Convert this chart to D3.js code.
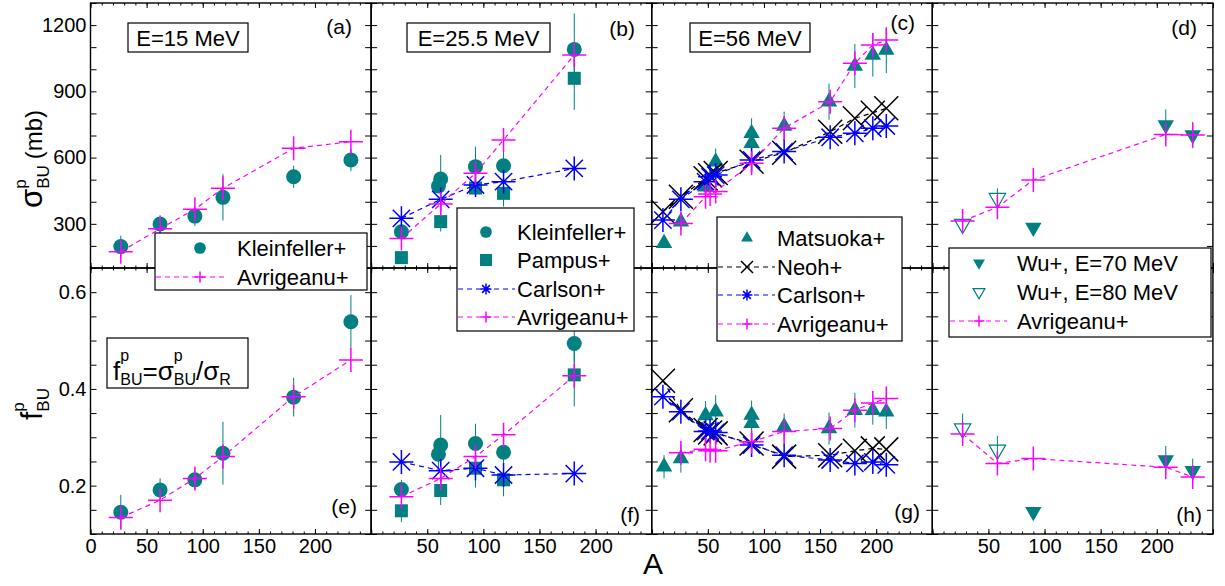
<!DOCTYPE html>
<head>
<meta charset="utf-8">
<script src="https://d3js.org/d3.v7.min.js"></script>
<style>
  body { margin: 0; background: #fff; }
  text { font-family: "Liberation Sans", Arial, sans-serif; }
</style>
</head>
<body>
<svg width="1225" height="586"></svg>
<script>
// ---- data ----
// (a)/(e)  E = 15 MeV
var A15 = [27, 62, 93, 118, 181, 232];
var sKlein15 = [197, 299, 335, 420, 513, 589];
var sKlein15Err = [50, 40, 45, 105, 50, 50];
var sAvr15 = [174, 278, 366, 461, 642, 672];
var fKlein15 = [0.145, 0.191, 0.212, 0.267, 0.383, 0.539];
var fKlein15Err = [0.036, 0.024, 0.021, 0.065, 0.04, 0.055];
var fAvr15 = [0.134, 0.170, 0.215, 0.260, 0.384, 0.460];

// (b)/(f)  E = 25.5 MeV
var AKlein25 = [27, 60, 62, 93, 118, 181];
var sKlein25 = [264, 471, 503, 559, 563, 1090];
var sKlein25Err = [20, 30, 109, 90, 63, 163];
var fKlein25 = [0.192, 0.265, 0.284, 0.287, 0.269, 0.494];
var fKlein25Err = [0.02, 0.03, 0.062, 0.041, 0.03, 0.04];
var A25 = [27, 62, 93, 118, 181];
var sPamp25 = [147, 310, 462, 438, 959];
var sPamp25Err = [15, 45, 40, 60, 143];
var fPamp25 = [0.148, 0.19, 0.236, 0.212, 0.429];
var fPamp25Err = [0.023, 0.03, 0.04, 0.034, 0.065];
var sCarl25 = [325, 411, 476, 491, 551];
var fCarl25 = [0.249, 0.231, 0.236, 0.222, 0.225];
var sAvr25 = [234, 390, 529, 680, 1065];
var fAvr25 = [0.177, 0.215, 0.260, 0.305, 0.427];

// (c)/(g)  E = 56 MeV
var AMats56 = [11, 26, 48, 57, 89, 89, 118, 158, 181, 197, 209];
var sMats56 = [212, 310, 468, 581, 710, 665, 743, 853, 1015, 1065, 1087];
var sMats56Err = [20, 40, 30, 60, 68, 40, 65, 82, 100, 98, 105];
var fMats56 = [0.239, 0.256, 0.345, 0.353, 0.346, 0.329, 0.322, 0.318, 0.356, 0.356, 0.353];
var fMats56Err = [0.024, 0.029, 0.03, 0.034, 0.03, 0.02, 0.027, 0.033, 0.036, 0.03, 0.036];
var A56 = [10, 26, 48, 52, 57, 89, 118, 159, 181, 197, 209];
var sNeoh56 = [355, 423, 506, 520, 530, 581, 622, 717, 778, 803, 823];
var fNeoh56 = [0.417, 0.356, 0.315, 0.31, 0.308, 0.287, 0.26, 0.263, 0.272, 0.277, 0.275];
var sCarl56 = [317, 411, 491, 513, 521, 589, 627, 692, 710, 733, 743];
var fCarl56 = [0.384, 0.353, 0.312, 0.313, 0.31, 0.284, 0.263, 0.253, 0.246, 0.249, 0.243];
var AAvr56 = [26, 48, 52, 57, 89, 118, 159, 181, 197, 209];
var sAvr56 = [302, 423, 435, 446, 574, 733, 853, 1027, 1110, 1132];
var fAvr56 = [0.268, 0.275, 0.272, 0.272, 0.291, 0.312, 0.318, 0.356, 0.371, 0.38];

// (d)/(h)  Wu E = 70 / 80 MeV
var AWu70 = [90, 208, 232];
var sWu70 = [283, 748, 702];
var sWu70Err = [15, 70, 60];
var fWu70 = [0.146, 0.253, 0.231];
var fWu70Err = [0.01, 0.029, 0.025];
var AWu80 = [27, 58];
var sWu80 = [299, 416];
var sWu80Err = [25, 45];
var fWu80 = [0.318, 0.274];
var fWu80Err = [0.031, 0.029];
var AAvr70 = [27, 58, 90, 208, 232];
var sAvr70 = [313, 375, 499, 705, 702];
var fAvr70 = [0.307, 0.246, 0.256, 0.238, 0.218];

var yTopTicks = [300, 600, 900, 1200];
var yBotTicks = [0.2, 0.4, 0.6];

// ---- layout ----
var svg = d3.select("svg");
var teal = "#008080", mag = "#ff00ff", blue = "#0000ff";
var font = "'Liberation Sans', Arial, sans-serif";

var cols = [90.5, 371.1, 651.7, 932.3], pw = 280.6;
var xs = cols.map(function(l) { return d3.scaleLinear().domain([0, 250]).range([l, l + pw]); });
var yTop = d3.scaleLinear().domain([100, 1300]).range([268, 3]);
var yBot = d3.scaleLinear().domain([0.1, 0.65]).range([534, 268]);

// marker shapes
function markerPath(type, h) {
    if (type == "plus") return "M" + (-h) + ",0H" + h + "M0," + (-h) + "V" + h;
    if (type == "times") return "M" + (-h) + "," + (-h) + "L" + h + "," + h + "M" + (-h) + "," + h + "L" + h + "," + (-h);
    if (type == "aster") {
        var d = h * 0.72;
        return "M" + (-h) + ",0H" + h + "M0," + (-h) + "V" + h +
            "M" + (-d) + "," + (-d) + "L" + d + "," + d + "M" + (-d) + "," + d + "L" + d + "," + (-d);
    }
    if (type == "triUp") return "M0," + (-h) + "L" + (0.866 * h) + "," + (0.5 * h) + "L" + (-0.866 * h) + "," + (0.5 * h) + "Z";
    if (type == "triDown" || type == "triDownOpen") return "M0," + h + "L" + (0.866 * h) + "," + (-0.5 * h) + "L" + (-0.866 * h) + "," + (-0.5 * h) + "Z";
    if (type == "square") return "M" + (-h) + "," + (-h) + "H" + h + "V" + h + "H" + (-h) + "Z";
}

var mSize = { circle: 7.5, square: 6.5, triUp: 9.5, triDown: 9.5, triDownOpen: 9.5, plus: 12, aster: 12, times: 12 };
var mColor = { circle: teal, square: teal, triUp: teal, triDown: teal, triDownOpen: teal, plus: mag, aster: blue, times: "#000" };

function marker(g, type, cx, cy, scale) {
    var h = mSize[type] * scale;
    if (type == "circle") {
        g.append("circle").attr("cx", cx).attr("cy", cy).attr("r", h).attr("fill", teal);
        return;
    }
    var p = g.append("path").attr("d", markerPath(type, h)).attr("transform", "translate(" + cx + "," + cy + ")");
    if (type == "plus" || type == "aster" || type == "times") {
        p.attr("fill", "none").attr("stroke", mColor[type]).attr("stroke-width", 1.5);
    } else if (type == "triDownOpen") {
        p.attr("fill", "none").attr("stroke", teal).attr("stroke-width", 1.2);
    } else {
        p.attr("fill", teal);
    }
}

// ---- panels ----
var panels = [
    { col: 0, y: yTop, series: [
        { x: A15, v: sKlein15, e: sKlein15Err, m: "circle" },
        { x: A15, v: sAvr15, m: "plus", line: mag } ] },
    { col: 1, y: yTop, series: [
        { x: AKlein25, v: sKlein25, e: sKlein25Err, m: "circle" },
        { x: A25, v: sPamp25, e: sPamp25Err, m: "square" },
        { x: A25, v: sCarl25, m: "aster", line: blue },
        { x: A25, v: sAvr25, m: "plus", line: mag } ] },
    { col: 2, y: yTop, series: [
        { x: AMats56, v: sMats56, e: sMats56Err, m: "triUp" },
        { x: A56, v: sNeoh56, m: "times", line: "#000" },
        { x: A56, v: sCarl56, m: "aster", line: blue },
        { x: AAvr56, v: sAvr56, m: "plus", line: mag } ] },
    { col: 3, y: yTop, series: [
        { x: AWu70, v: sWu70, e: sWu70Err, m: "triDown" },
        { x: AWu80, v: sWu80, e: sWu80Err, m: "triDownOpen" },
        { x: AAvr70, v: sAvr70, m: "plus", line: mag } ] },
    { col: 0, y: yBot, series: [
        { x: A15, v: fKlein15, e: fKlein15Err, m: "circle" },
        { x: A15, v: fAvr15, m: "plus", line: mag } ] },
    { col: 1, y: yBot, series: [
        { x: AKlein25, v: fKlein25, e: fKlein25Err, m: "circle" },
        { x: A25, v: fPamp25, e: fPamp25Err, m: "square" },
        { x: A25, v: fCarl25, m: "aster", line: blue },
        { x: A25, v: fAvr25, m: "plus", line: mag } ] },
    { col: 2, y: yBot, series: [
        { x: AMats56, v: fMats56, e: fMats56Err, m: "triUp" },
        { x: A56, v: fNeoh56, m: "times", line: "#000" },
        { x: A56, v: fCarl56, m: "aster", line: blue },
        { x: AAvr56, v: fAvr56, m: "plus", line: mag } ] },
    { col: 3, y: yBot, series: [
        { x: AWu70, v: fWu70, e: fWu70Err, m: "triDown" },
        { x: AWu80, v: fWu80, e: fWu80Err, m: "triDownOpen" },
        { x: AAvr70, v: fAvr70, m: "plus", line: mag } ] }
];

function noDomain(sel) { sel.select(".domain").remove(); }

panels.forEach(function(p, i) {
    var x = xs[p.col], y = p.y;
    var top = y.range()[1], bot = y.range()[0];
    var left = x.range()[0], right = x.range()[1];
    var g = svg.append("g").attr("color", "#000").attr("font-family", font);
    var isTop = (y === yTop);

    // frame
    g.append("rect").attr("x", left).attr("y", top).attr("width", right - left).attr("height", bot - top)
        .attr("fill", "none").attr("stroke", "#000").attr("stroke-width", 1.4);

    // x ticks (inside, top and bottom)
    [[top, d3.axisTop], [bot, d3.axisBottom]].forEach(function(t) {
        g.append("g").attr("transform", "translate(0," + t[0] + ")")
            .call(t[1](x).tickValues(d3.range(0, 251, 10)).tickSize(-2.5).tickFormat(""))
            .call(noDomain);
    });
    g.append("g").attr("transform", "translate(0," + top + ")")
        .call(d3.axisTop(x).tickValues(d3.range(0, 251, 50)).tickSize(-5).tickFormat(""))
        .call(noDomain);
    var xLabels = p.col == 0 ? [0, 50, 100, 150, 200] : [50, 100, 150, 200];
    g.append("g").attr("transform", "translate(0," + bot + ")")
        .call(d3.axisBottom(x).tickValues(d3.range(0, 251, 50)).tickSize(-5).tickPadding(5)
            .tickFormat(function(d) { return (!isTop && xLabels.indexOf(d) >= 0) ? d : ""; }))
        .call(noDomain)
        .attr("font-size", 20).attr("font-family", font);

    // y ticks (inside, left and right)
    var yt = isTop ? d3.range(100, 1301, 100) : d3.range(0.1, 0.651, 0.05);
    var yl = isTop ? yTopTicks : yBotTicks;
    g.append("g").attr("transform", "translate(" + left + ",0)")
        .call(d3.axisLeft(y).tickValues(yt).tickSize(-6).tickPadding(4)
            .tickFormat(function(d) {
                if (p.col != 0) return "";
                var hit = yl.filter(function(v) { return Math.abs(v - d) < 1e-6; });
                return hit.length ? (isTop ? d3.format("d")(d) : d3.format(".1f")(d)) : "";
            }))
        .call(noDomain)
        .attr("font-size", 20).attr("font-family", font);
    g.append("g").attr("transform", "translate(" + right + ",0)")
        .call(d3.axisRight(y).tickValues(yt).tickSize(-6).tickFormat(""))
        .call(noDomain);

    // data
    p.series.forEach(function(s) {
        var pts = s.x.map(function(a, k) { return [x(a), y(s.v[k])]; });
        if (s.line) {
            g.append("path").attr("d", d3.line()(pts)).attr("fill", "none")
                .attr("stroke", s.line).attr("stroke-width", 1.2).attr("stroke-dasharray", "5,4");
        }
        if (s.e) {
            s.x.forEach(function(a, k) {
                g.append("line").attr("x1", x(a)).attr("x2", x(a))
                    .attr("y1", y(s.v[k] - s.e[k])).attr("y2", y(s.v[k] + s.e[k]))
                    .attr("stroke", teal).attr("stroke-width", 1);
            });
        }
        pts.forEach(function(pt) { marker(g, s.m, pt[0], pt[1], 1); });
    });
});

// ---- rich text helper (sub/superscripts) ----
function rich(g, x, y, parts) {
    var cx = x, supX = x;
    parts.forEach(function(q) {
        var px = q.stack ? supX : cx + (q.gap || 0);
        var t = g.append("text").attr("x", px).attr("y", y + (q.dy || 0))
            .attr("font-size", q.fs).attr("font-family", font).attr("fill", "#000").text(q.t);
        if (q.sup) supX = px;
        cx = Math.max(cx, px + t.node().getComputedTextLength());
    });
    return cx - x;
}

// axis titles
var tTop = svg.append("g").attr("transform", "translate(42,208) rotate(-90)");
rich(tTop, 0, 0, [
    { t: "σ", fs: 31 },
    { t: "p", fs: 17, dy: -16, sup: true },
    { t: "BU", fs: 17, dy: 7, stack: true },
    { t: "(mb)", fs: 24, gap: 6 }
]);
var tBot = svg.append("g").attr("transform", "translate(42,420) rotate(-90)");
rich(tBot, 0, 0, [
    { t: "f", fs: 30 },
    { t: "p", fs: 17, dy: -18, sup: true },
    { t: "BU", fs: 17, dy: 7, stack: true }
]);
svg.append("text").attr("x", 653).attr("y", 574).attr("text-anchor", "middle")
    .attr("font-size", 30).attr("font-family", font).text("A");

// panel letters
var letters = [["(a)", 352, 34], ["(b)", 635, 36], ["(c)", 915, 30], ["(d)", 1197, 35],
               ["(e)", 357, 514], ["(f)", 640, 522], ["(g)", 920, 519], ["(h)", 1202, 522]];
letters.forEach(function(l) {
    svg.append("text").attr("x", l[1]).attr("y", l[2]).attr("text-anchor", "end")
        .attr("font-size", 21).attr("font-family", font).text(l[0]);
});

// energy boxes
function box(x0, y0, w, h) {
    return svg.append("rect").attr("x", x0).attr("y", y0).attr("width", w).attr("height", h)
        .attr("fill", "#fff").attr("stroke", "#000").attr("stroke-width", 1.2);
}
[["E=15 MeV", 128, 120], ["E=25.5 MeV", 407, 143], ["E=56 MeV", 690, 120]].forEach(function(b) {
    box(b[1], 23, b[2], 29);
    svg.append("text").attr("x", b[1] + b[2] / 2).attr("y", 45.5).attr("text-anchor", "middle")
        .attr("font-size", 22).attr("font-family", font).text(b[0]);
});

// formula box in (e)
box(107, 338, 141, 50);
rich(svg, 113, 380, [
    { t: "f", fs: 26 },
    { t: "p", fs: 16, dy: -19, sup: true },
    { t: "BU", fs: 16, dy: 5, stack: true },
    { t: "=σ", fs: 26 },
    { t: "p", fs: 16, dy: -19, sup: true },
    { t: "BU", fs: 16, dy: 5, stack: true },
    { t: "/σ", fs: 26 },
    { t: "R", fs: 16, dy: 5 }
]);

// legends
var legScale = { circle: 0.78, square: 0.92, triUp: 0.72, triDown: 0.72, triDownOpen: 0.72, plus: 0.45, aster: 0.45, times: 0.5 };
function legend(x0, y0, w, h, mx, tx, lineEnd, items) {
    box(x0, y0, w, h);
    items.forEach(function(it) {
        if (it.line) {
            svg.append("line").attr("x1", x0 + 1).attr("x2", lineEnd).attr("y1", it.y).attr("y2", it.y)
                .attr("stroke", it.line).attr("stroke-width", 1.2).attr("stroke-dasharray", "5,4");
        }
        marker(svg, it.m, mx, it.y, legScale[it.m]);
        svg.append("text").attr("x", tx).attr("y", it.y + 8).attr("font-size", 22)
            .attr("font-family", font).text(it.label);
    });
}
legend(155, 233, 212, 57, 200, 237, 227, [
    { label: "Kleinfeller+", m: "circle", y: 248 },
    { label: "Avrigeanu+", m: "plus", line: mag, y: 277 }
]);
legend(457, 208, 177, 123, 486, 517, 515, [
    { label: "Kleinfeller+", m: "circle", y: 232 },
    { label: "Pampus+", m: "square", y: 260 },
    { label: "Carlson+", m: "aster", line: blue, y: 289 },
    { label: "Avrigeanu+", m: "plus", line: mag, y: 317 }
]);
legend(717, 217, 185, 124, 747, 777, 775, [
    { label: "Matsuoka+", m: "triUp", y: 238 },
    { label: "Neoh+", m: "times", line: "#000", y: 267 },
    { label: "Carlson+", m: "aster", line: blue, y: 295 },
    { label: "Avrigeanu+", m: "plus", line: mag, y: 324 }
]);
legend(949, 248, 262, 89, 979, 1017, 1007, [
    { label: "Wu+, E=70 MeV", m: "triDown", y: 263 },
    { label: "Wu+, E=80 MeV", m: "triDownOpen", y: 292 },
    { label: "Avrigeanu+", m: "plus", line: mag, y: 321 }
]);
</script>
</body>
